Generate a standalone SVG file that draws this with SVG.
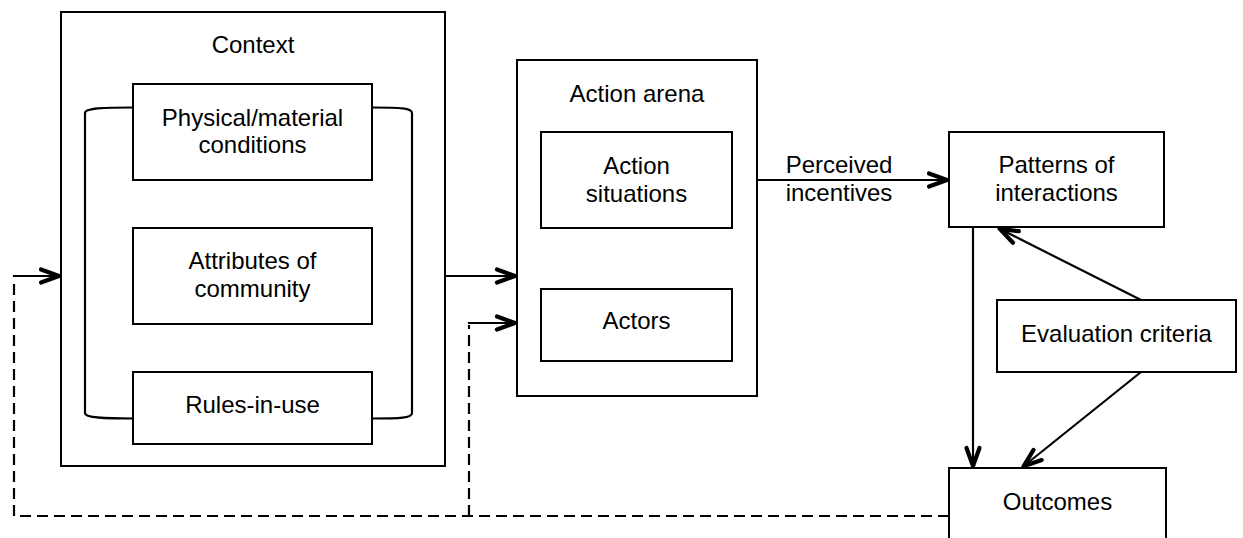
<svg xmlns="http://www.w3.org/2000/svg" width="1243" height="538" viewBox="0 0 1243 538">
  <style>
    .box { fill: #fff; stroke: #000; stroke-width: 2; }
    .lbl { font-family: "Liberation Sans", Arial, sans-serif; font-size: 24px; fill: #000; text-anchor: middle; }
    .ln { fill: none; stroke: #000; stroke-width: 2.2; }
    .dash { fill: none; stroke: #000; stroke-width: 2.2; stroke-dasharray: 11 6; }
  </style>
  <defs>
    <marker id="arr" markerUnits="userSpaceOnUse" markerWidth="30" markerHeight="22" viewBox="-26 -11 30 22" refX="0" refY="0" orient="auto">
      <path d="M-20,-6.5 L-2,0 L-20,6.5" fill="none" stroke="#000" stroke-width="4.2" stroke-linecap="round" stroke-linejoin="round"/>
    </marker>
  </defs>

  <rect width="1243" height="538" fill="#fff"/>

  <!-- Context container with its three conditions -->
  <g id="context">
    <rect class="box" x="61" y="12" width="384" height="454"/>
    <text class="lbl" x="253" y="53">Context</text>
    <!-- bracket tying the three conditions together -->
    <path class="ln" d="M133,107.5 C105,107.5 85,108 85,113 V413 C85,418 105,418.5 133,418.5"/>
    <path class="ln" d="M372,107.5 C400,107.5 412,108 412,113 V413 C412,418 400,418.5 372,418.5"/>
  </g>
  <g id="physical">
    <rect class="box" x="133" y="84" width="239" height="96"/>
    <text class="lbl" x="252.5" y="126">Physical/material</text>
    <text class="lbl" x="252.5" y="153">conditions</text>
  </g>
  <g id="attributes">
    <rect class="box" x="133" y="228" width="239" height="96"/>
    <text class="lbl" x="252.5" y="269">Attributes of</text>
    <text class="lbl" x="252.5" y="297">community</text>
  </g>
  <g id="rules">
    <rect class="box" x="133" y="372" width="239" height="72"/>
    <text class="lbl" x="252.5" y="413">Rules-in-use</text>
  </g>

  <!-- Action arena container -->
  <g id="arena">
    <rect class="box" x="517" y="60" width="240" height="336"/>
    <text class="lbl" x="637" y="102">Action arena</text>
  </g>
  <g id="situations">
    <rect class="box" x="541" y="132" width="191" height="96"/>
    <text class="lbl" x="636.5" y="174">Action</text>
    <text class="lbl" x="636.5" y="202">situations</text>
  </g>
  <g id="actors">
    <rect class="box" x="541" y="289" width="191" height="72"/>
    <text class="lbl" x="636.5" y="329">Actors</text>
  </g>

  <!-- Right-hand column -->
  <g id="patterns">
    <rect class="box" x="949" y="132" width="215" height="95"/>
    <text class="lbl" x="1056.5" y="173">Patterns of</text>
    <text class="lbl" x="1056.5" y="201">interactions</text>
  </g>
  <g id="evaluation">
    <rect class="box" x="997" y="300" width="239" height="72"/>
    <text class="lbl" x="1116.5" y="342">Evaluation criteria</text>
  </g>
  <g id="outcomes">
    <rect class="box" x="949" y="468" width="217" height="90"/>
    <text class="lbl" x="1057.5" y="510">Outcomes</text>
  </g>

  <!-- Connectors -->
  <g id="connectors">
    <line class="ln" x1="445" y1="276" x2="517" y2="276" marker-end="url(#arr)"/>
    <line class="ln" x1="757" y1="180" x2="949" y2="180" marker-end="url(#arr)"/>
    <text class="lbl" x="839" y="173">Perceived</text>
    <text class="lbl" x="839" y="201">incentives</text>
    <line class="ln" x1="973" y1="227" x2="973" y2="468" marker-end="url(#arr)"/>
    <line class="ln" x1="1141" y1="300" x2="998" y2="228" marker-end="url(#arr)"/>
    <line class="ln" x1="1141" y1="372" x2="1022" y2="467.5" marker-end="url(#arr)"/>
    <!-- feedback from outcomes -->
    <path class="dash" d="M949,516 H14 V278"/>
    <path class="dash" d="M469,516 V325"/>
    <path class="ln" d="M14,277 V276 H61" marker-end="url(#arr)"/>
    <path class="ln" d="M469,324 V323 H517" marker-end="url(#arr)"/>
  </g>
</svg>
